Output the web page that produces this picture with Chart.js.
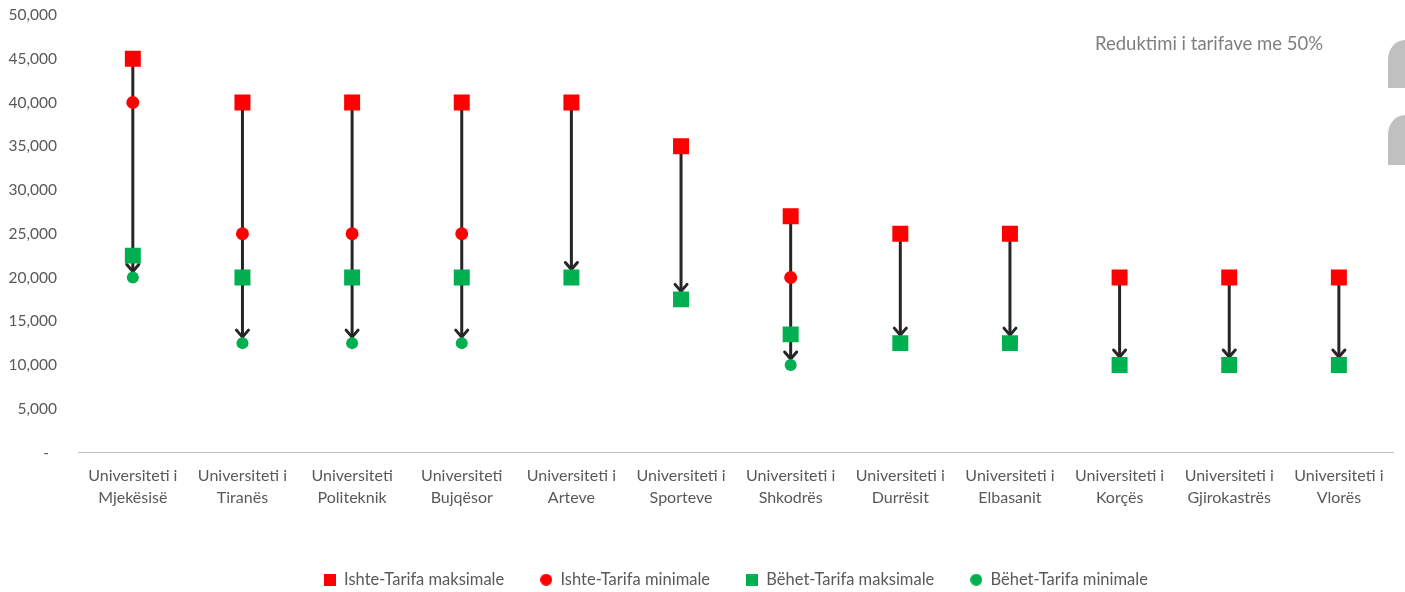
<!DOCTYPE html>
<html>
<head>
<meta charset="utf-8">
<script src="https://cdn.jsdelivr.net/npm/chart.js@4"></script>
<style>
  body { margin: 0; background: #fff; }
  #wrap { position: relative; width: 1405px; height: 592px; }
  #shenim { position: absolute; right: 82px; top: 32px; font: 18.5px Lato, sans-serif; color: #7f7f7f; }
  .logo { position: absolute; left: 1388px; width: 17px; background: #c0c0c0; border-top-left-radius: 17px 20px; }
</style>
</head>
<body>
<div id="wrap">
  <canvas id="grafiku"></canvas>
  <div id="shenim">Reduktimi i tarifave me 50%</div>
  <div class="logo" style="top:40px;height:48px"></div>
  <div class="logo" style="top:115px;height:50px"></div>
</div>
<script>
// universitetet (2 rreshta per etikete)
const universitetet = [
  ["Universiteti i", "Mjekësisë"], ["Universiteti i", "Tiranës"], ["Universiteti", "Politeknik"],
  ["Universiteti", "Bujqësor"], ["Universiteti i", "Arteve"], ["Universiteti i", "Sporteve"],
  ["Universiteti i", "Shkodrës"], ["Universiteti i", "Durrësit"], ["Universiteti i", "Elbasanit"],
  ["Universiteti i", "Korçës"], ["Universiteti i", "Gjirokastrës"], ["Universiteti i", "Vlorës"]
];
const ishteMaks = [45000, 40000, 40000, 40000, 40000, 35000, 27000, 25000, 25000, 20000, 20000, 20000];
const ishteMin  = [40000, 25000, 25000, 25000, null, null, 20000, null, null, null, null, null];
const behetMaks = [22500, 20000, 20000, 20000, 20000, 17500, 13500, 12500, 12500, 10000, 10000, 10000];
const behetMin  = [20000, 12500, 12500, 12500, null, null, 10000, null, null, null, null, null];

const gri = "#595959";
const fonti = "Lato, sans-serif";

// shigjetat nga tarifa e vjeter maksimale te tarifa e re
const shigjetat = {
  id: "shigjetat",
  beforeDatasetsDraw(chart) {
    const ctx = chart.ctx;
    const x = chart.scales.x;
    const y = chart.scales.y;
    ctx.save();
    ctx.strokeStyle = "#262626";
    ctx.lineWidth = 3;
    ctx.lineCap = "round";
    ctx.lineJoin = "round";
    for (let i = 0; i < ishteMaks.length; i++) {
      let fund = behetMin[i] != null ? behetMin[i] : behetMaks[i];
      let r = behetMin[i] != null ? 6 : 8;
      let px = x.getPixelForValue(i);
      let y0 = y.getPixelForValue(ishteMaks[i]);
      let y1 = y.getPixelForValue(fund) - r;
      ctx.beginPath();
      ctx.moveTo(px, y0);
      ctx.lineTo(px, y1);
      ctx.stroke();
      ctx.beginPath();
      ctx.moveTo(px - 6, y1 - 7);
      ctx.lineTo(px, y1);
      ctx.lineTo(px + 6, y1 - 7);
      ctx.stroke();
    }
    ctx.restore();
  }
};

// shenjat e vogla per legjenden
function shenje(ngjyra, rreth) {
  const c = document.createElement("canvas");
  c.width = 12; c.height = 12;
  const g = c.getContext("2d");
  g.fillStyle = ngjyra;
  if (rreth) { g.beginPath(); g.arc(6, 6, 6, 0, Math.PI * 2); g.fill(); }
  else g.fillRect(0, 0, 12, 12);
  return c;
}
const shenjatLegjende = [shenje("#ff0000", false), shenje("#ff0000", true), shenje("#00b050", false), shenje("#00b050", true)];

function seri(emri, vlerat, ngjyra, stili, rrezja) {
  return {
    label: emri,
    data: vlerat,
    showLine: false,
    pointStyle: stili,
    pointRadius: rrezja,
    pointHoverRadius: rrezja,
    pointBackgroundColor: ngjyra,
    pointBorderWidth: 0,
    backgroundColor: ngjyra,
    borderColor: ngjyra,
    borderWidth: 0
  };
}

new Chart(document.getElementById("grafiku"), {
  type: "line",
  data: {
    labels: universitetet,
    datasets: [
      seri("Ishte-Tarifa maksimale", ishteMaks, "#ff0000", "rect", 11.3),
      seri("Ishte-Tarifa minimale", ishteMin, "#ff0000", "circle", 6.5),
      seri("Bëhet-Tarifa maksimale", behetMaks, "#00b050", "rect", 11.3),
      seri("Bëhet-Tarifa minimale", behetMin, "#00b050", "circle", 6)
    ]
  },
  options: {
    responsive: true,
    maintainAspectRatio: false,
    animation: false,
    layout: { padding: { top: 15, right: 7, left: 0, bottom: -6 } },
    plugins: {
      legend: {
        position: "bottom",
        fullSize: false,
        labels: {
          usePointStyle: true,
          boxWidth: 12,
          boxHeight: 12,
          padding: 36,
          color: gri,
          font: { family: fonti, size: 16.5 },
          generateLabels(chart) {
            const items = Chart.defaults.plugins.legend.labels.generateLabels(chart);
            items.forEach((it, i) => { it.pointStyle = shenjatLegjende[i]; });
            return items;
          }
        }
      },
      tooltip: { enabled: false }
    },
    scales: {
      x: {
        offset: true,
        grid: { display: false, drawTicks: false },
        border: { display: true, color: "#bfbfbf", width: 1 },
        ticks: {
          color: gri,
          font: { family: fonti, size: 16, lineHeight: 1.375 },
          padding: 12,
          maxRotation: 0,
          autoSkip: false
        },
        afterFit(s) { s.height = 83; }
      },
      y: {
        min: 0,
        max: 50000,
        grid: { display: false, drawTicks: false },
        border: { display: false },
        ticks: {
          stepSize: 5000,
          color: gri,
          padding: 21,
          font: { family: fonti, size: 15.5 },
          callback: v => v === 0 ? "-  " : v.toLocaleString("en-US")
        },
        afterFit(s) { s.width = 78; s.paddingTop = 0; s.paddingBottom = 0; }
      }
    }
  },
  plugins: [shigjetat]
});
</script>
</body>
</html>
